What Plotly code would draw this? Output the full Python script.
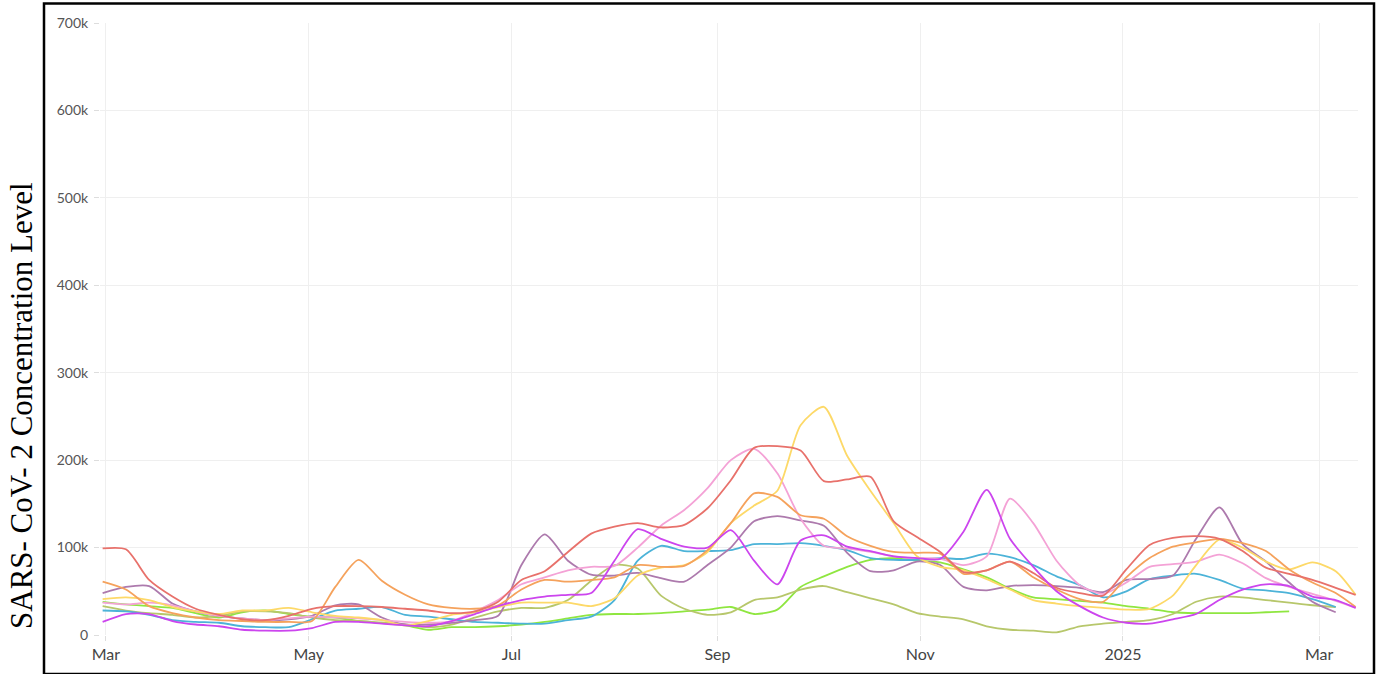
import plotly.graph_objects as go

# Weekly sample dates
dates = [
    "2024-02-29", "2024-03-07", "2024-03-14", "2024-03-21", "2024-03-28",
    "2024-04-04", "2024-04-11", "2024-04-18", "2024-04-25", "2024-05-02",
    "2024-05-09", "2024-05-16", "2024-05-23", "2024-05-30", "2024-06-06",
    "2024-06-13", "2024-06-20", "2024-06-27", "2024-07-04", "2024-07-11",
    "2024-07-18", "2024-07-25", "2024-08-01", "2024-08-08", "2024-08-15",
    "2024-08-22", "2024-08-29", "2024-09-05", "2024-09-12", "2024-09-19",
    "2024-09-26", "2024-10-03", "2024-10-10", "2024-10-17", "2024-10-24",
    "2024-10-31", "2024-11-07", "2024-11-14", "2024-11-21", "2024-11-28",
    "2024-12-05", "2024-12-12", "2024-12-19", "2024-12-26", "2025-01-02",
    "2025-01-09", "2025-01-16", "2025-01-23", "2025-01-30", "2025-02-06",
    "2025-02-13", "2025-02-20", "2025-02-27", "2025-03-06", "2025-03-12",
]

# Concentration values (thousands)
red = [99, 98, 63, 44, 30, 23, 18, 17, 22, 30, 33, 33, 32, 30, 28, 25, 27, 38, 63, 73,
       95, 116, 124, 128, 123, 126, 145, 177, 214, 216, 211, 176, 178, 181, 130, 112, 95, 72, 74, 84,
       71, 54, 48, 45, 75, 103, 111, 113, 110, 96, 77, 70, 63, 54, 46]
orange = [61, 52, 33, 25, 20, 17, 16, 15, 15, 16, 55, 86, 62, 46, 35, 31, 30, 34, 52, 63,
          61, 63, 66, 80, 78, 79, 97, 128, 162, 158, 137, 133, 113, 102, 95, 94, 93, 70, 74, 84,
          66, 52, 41, 38, 66, 88, 101, 106, 110, 105, 96, 75, 60, 48, 32]
mauve = [48, 55, 56, 36, 27, 22, 19, 17, 18, 22, 34, 35, 20, 12, 12, 14, 17, 22, 80, 115,
         85, 69, 68, 71, 65, 61, 80, 100, 130, 136, 131, 125, 94, 73, 74, 84, 80, 55, 51, 56,
         57, 56, 54, 49, 63, 64, 68, 110, 146, 104, 84, 60, 38, 26, None]
yellow = [41, 43, 40, 32, 27, 24, 28, 28, 31, 26, 22, 20, 17, 11, 16, 23, 26, 32, 37, 37,
          37, 33, 42, 68, 77, 80, 95, 128, 148, 165, 240, 261, 205, 165, 128, 90, 78, 74, 64, 52,
          40, 36, 33, 31, 29, 30, 45, 80, 109, 100, 84, 75, 83, 73, 46]
pink = [37, 35, 37, 34, 27, 22, 19, 17, 19, 21, 20, 19, 17, 15, 14, 16, 27, 40, 58, 66,
        74, 78, 79, 100, 125, 143, 168, 200, 213, 185, 133, 102, 99, 95, 90, 88, 87, 80, 90, 156,
        128, 85, 57, 47, 60, 78, 81, 84, 92, 82, 65, 55, 47, 39, 31]
magenta = [15, 24, 24, 16, 12, 10, 6, 5, 5, 8, 15, 15, 13, 11, 10, 16, 24, 33, 40, 44,
           46, 48, 85, 121, 110, 101, 100, 120, 85, 58, 108, 114, 101, 96, 90, 88, 87, 118, 166, 110,
           78, 50, 33, 20, 14, 13, 18, 24, 40, 52, 58, 56, 44, 40, 31]
cyan = [28, 27, 23, 17, 15, 14, 10, 9, 9, 18, 28, 30, 32, 23, 21, 18, 15, 14, 13, 13,
        17, 21, 40, 85, 102, 96, 96, 97, 104, 104, 105, 102, 97, 88, 86, 86, 88, 87, 93, 89,
        80, 67, 57, 43, 50, 64, 68, 70, 63, 53, 51, 48, 41, 32, None]
green = [38, 35, 33, 31, 25, 20, 26, 28, 24, 21, 20, 16, 14, 11, 6, 9, 9, 10, 12, 15,
         19, 23, 24, 24, 25, 27, 29, 32, 24, 29, 55, 67, 78, 86, 88, 85, 83, 75, 66, 53,
         43, 41, 39, 37, 33, 30, 26, 25, 25, 25, 26, 27, None, None, None]
olive = [33, 28, 25, 23, 20, 22, 27, 27, 25, 20, 17, 16, 14, 12, 9, 12, 20, 27, 31, 31,
         40, 62, 80, 76, 45, 30, 23, 26, 40, 43, 52, 56, 49, 42, 35, 25, 21, 18, 10, 6,
         5, 3, 10, 13, 15, 17, 24, 38, 44, 43, 40, 37, 34, 32, None]

series_names = ["Site A", "Site B", "Site C", "Site D", "Site E", "Site F", "Site G", "Site H", "Site I"]
series_values = [green, olive, cyan, mauve, pink, yellow, orange, red, magenta]
series_colors = ["#8fe640", "#b7c76b", "#4cb3d8", "#ad7aad", "#f4a2d6", "#fdd968", "#f5a25c", "#e8716b", "#cc45ee"]

y_tickvals = [0, 100, 200, 300, 400, 500, 600, 700]
y_ticktext = ["0", "100k", "200k", "300k", "400k", "500k", "600k", "700k"]
x_tickvals = ["2024-03-01", "2024-05-01", "2024-07-01", "2024-09-01", "2024-11-01", "2025-01-01", "2025-03-01"]
x_ticktext = ["Mar", "May", "Jul", "Sep", "Nov", "2025", "Mar"]

fig = go.Figure()
for name, vals, col in zip(series_names, series_values, series_colors):
    fig.add_trace(go.Scatter(
        x=dates, y=vals, name=name, mode="lines",
        line=dict(color=col, width=1.8, shape="spline", smoothing=0.7),
        connectgaps=False, showlegend=False,
    ))

W, H = 1382, 674
L, R, T, B = 100, 24, 23, 39
pw, ph = W - L - R, H - T - B


def px_x(p):
    return (p - L) / pw


def px_y(p):
    return (H - B - p) / ph


fig.update_layout(
    width=W, height=H,
    margin=dict(l=L, r=R, t=T, b=B),
    paper_bgcolor="white", plot_bgcolor="white",
    showlegend=False,
    xaxis=dict(
        type="date",
        range=["2024-02-28 05:00", "2025-03-12 17:00"],
        tickvals=x_tickvals, ticktext=x_ticktext,
        showgrid=True, gridcolor="#efefef", gridwidth=1,
        ticks="outside", ticklen=5, tickcolor="#dddddd",
        tickfont=dict(family="Lato", size=16, color="#444444"),
        showline=False, zeroline=False,
    ),
    yaxis=dict(
        range=[0, 700],
        tickvals=y_tickvals, ticktext=y_ticktext,
        showgrid=True, gridcolor="#efefef", gridwidth=1,
        ticks="outside", ticklen=5, tickcolor="#dddddd",
        tickfont=dict(family="Lato", size=14, color="#555555"),
        ticklabelstandoff=3,
        showline=False, zeroline=False,
    ),
    annotations=[dict(
        text="SARS- CoV- 2 Concentration Level",
        xref="paper", yref="paper",
        x=px_x(21), y=px_y(406),
        xanchor="center", yanchor="middle",
        textangle=-90, showarrow=False,
        font=dict(family="Liberation Serif", size=31, color="black"),
    )],
    shapes=[dict(
        type="rect", xref="paper", yref="paper",
        x0=px_x(44), x1=px_x(1374), y0=px_y(674), y1=px_y(3.5),
        line=dict(color="black", width=2.5), fillcolor="rgba(0,0,0,0)",
        layer="above",
    )],
)

fig.write_html(
    "out.html",
    config={"displayModeBar": False},
    post_script="document.body.style.margin='0px';document.body.style.overflow='hidden';",
)
